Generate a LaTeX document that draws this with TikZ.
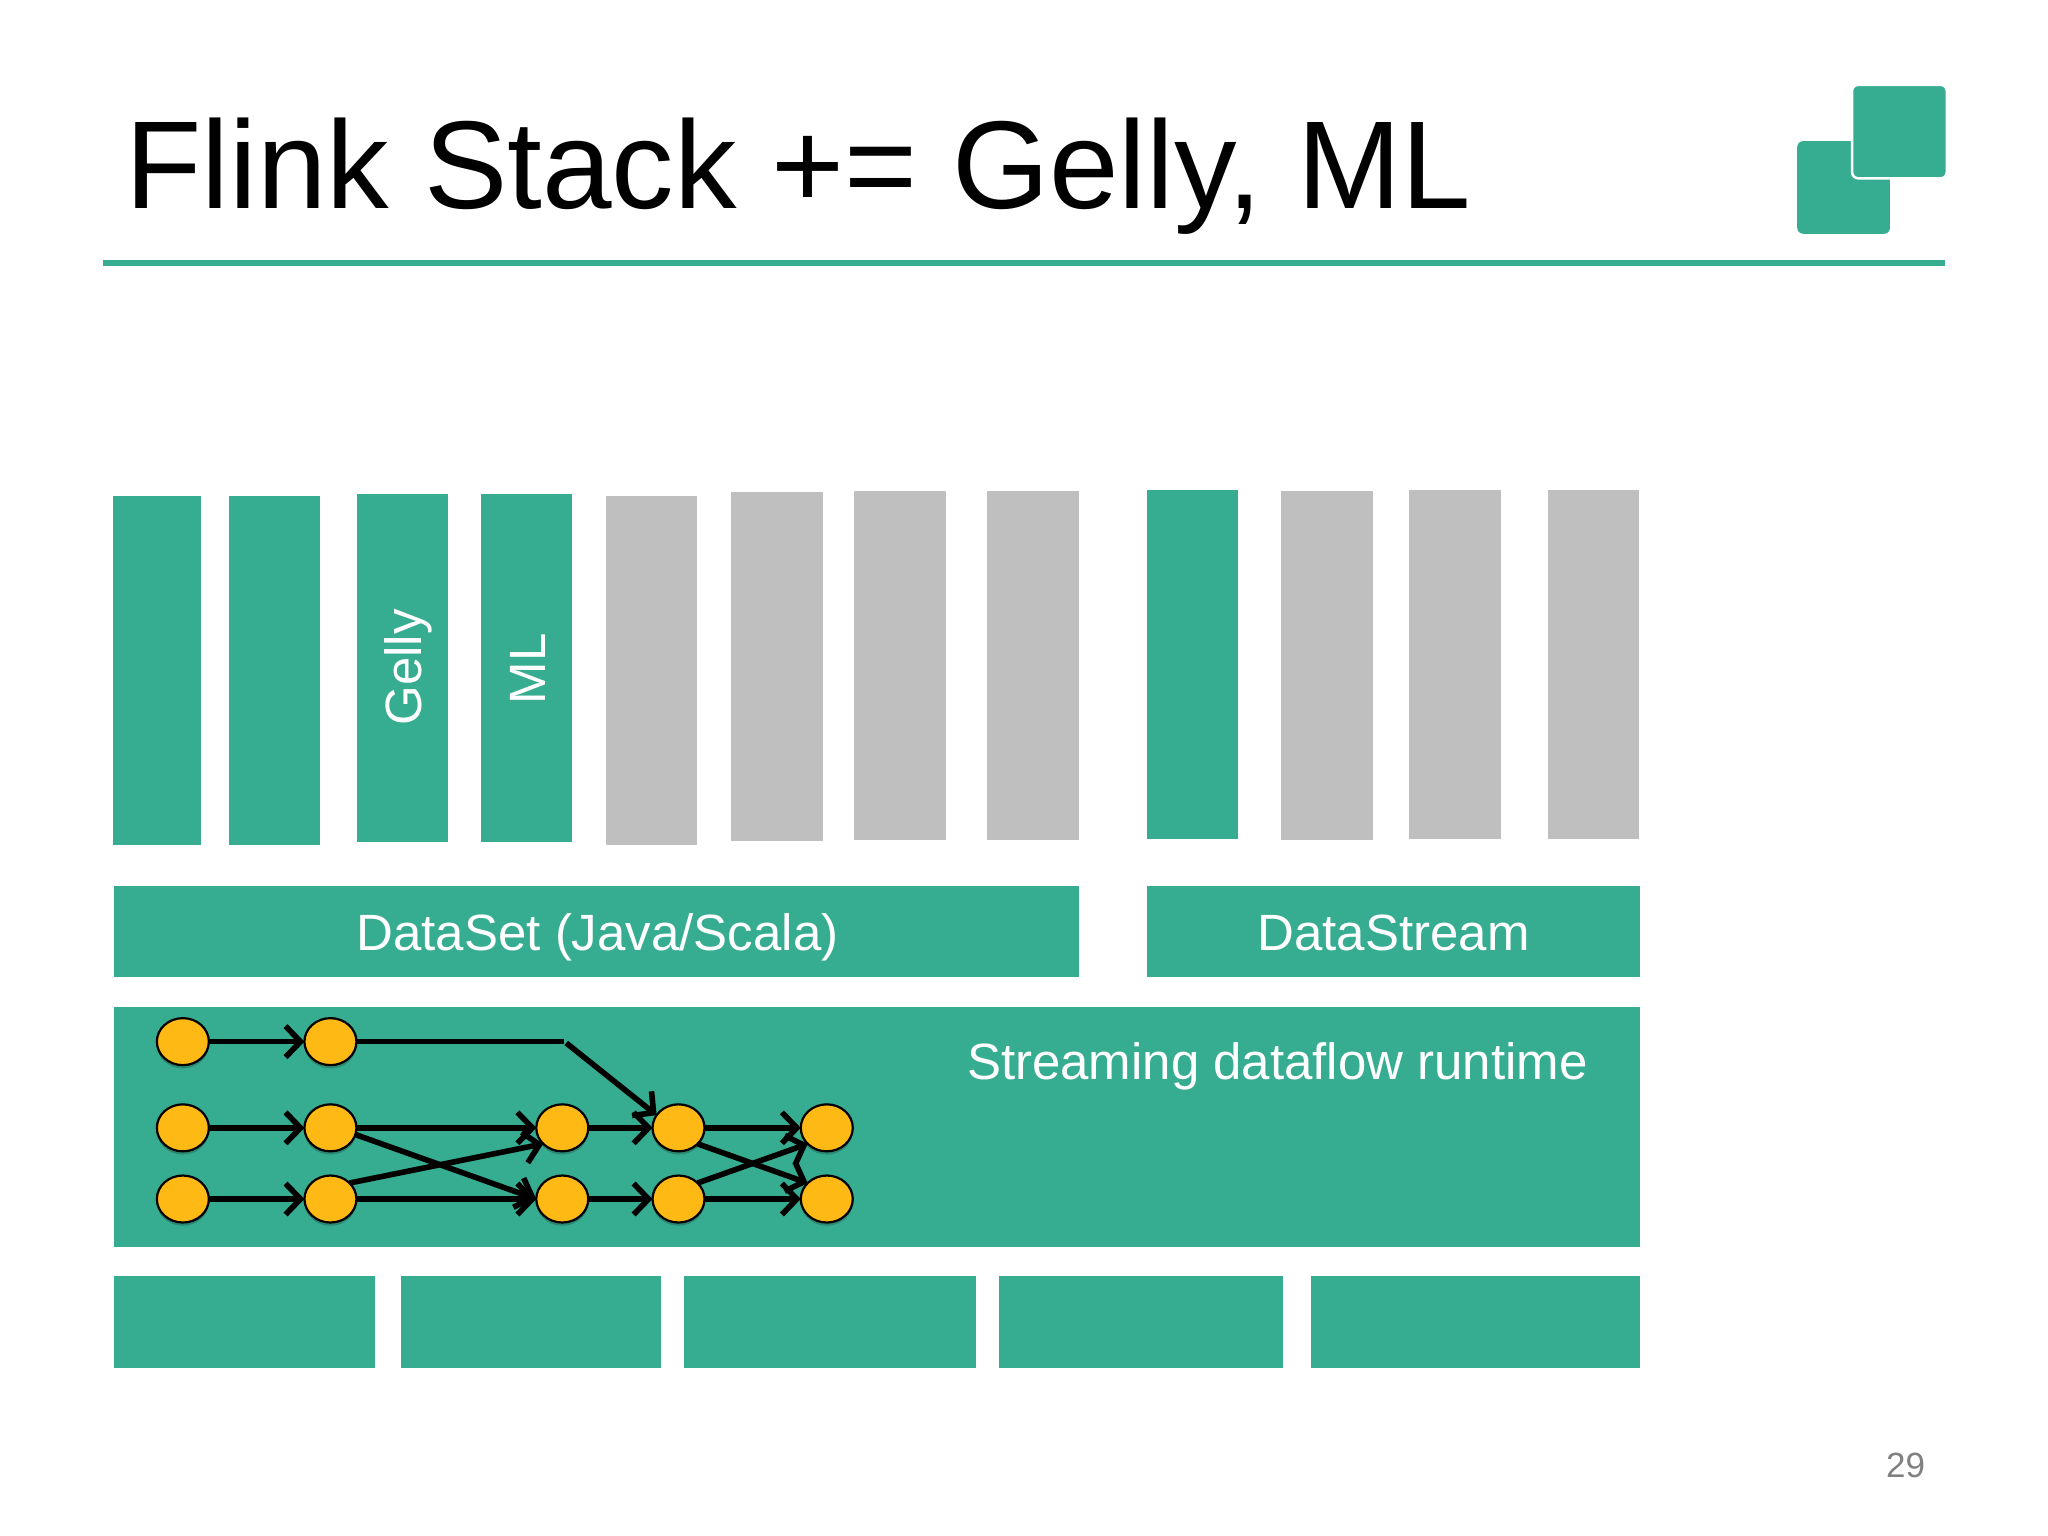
\documentclass[tikz,border=0pt]{standalone}
\usepackage{fontspec}
\setmainfont{Liberation Sans}
\usetikzlibrary{arrows.meta,calc,shapes.geometric}
\definecolor{flgreen}{HTML}{36AD91}
\definecolor{flgray}{HTML}{BFBFBF}
\definecolor{florange}{HTML}{FFB914}
\tikzset{
  grn/.style={fill=flgreen,draw=none},
  gry/.style={fill=flgray,draw=none},
  op/.style={ellipse,draw=black,line width=2.2pt,fill=florange,minimum width=52pt,minimum height=47pt,inner sep=0pt,outer sep=0pt},
  shad/.style={ellipse,fill=black,opacity=.2,minimum width=52pt,minimum height=47pt,inner sep=0pt},
  flow/.style={draw=black,line width=5.6pt,-{Straight Barb[length=15pt,width=31pt,line width=5.6pt]}},
  seg/.style={draw=black,line width=5.6pt},
  lab/.style={text=white,font=\fontsize{51}{60}\selectfont,inner sep=0pt,anchor=base},
}
\begin{document}
\begin{tikzpicture}[x=1.30612pt,y=-1.30612pt]
\useasboundingbox (0,0) rectangle (1568,1176);
\fill[white] (0,0) rectangle (1568,1176);
% title
\node[anchor=base west,inner sep=0pt,font=\fontsize{125}{140}\selectfont] (title) at (96,159.5) {Flink Stack += Gelly, ML};
\fill[flgreen] (78.5,199) rectangle (1489.5,203.5);
% logo
\fill[flgreen,rounded corners=6pt] (1376,108) rectangle (1447,179);
\fill[flgreen,rounded corners=6pt,draw=white,line width=2.5pt] (1418,65) rectangle (1490.5,136.5);
% columns
\fill[grn] (86.5,380) rectangle (154,647);
\fill[grn] (175,380) rectangle (245,647);
\fill[grn] (273,378) rectangle (343,645);
\node[lab,rotate=90] (gelly) at (323,511) {Gelly};
\fill[grn] (368,378) rectangle (438,645);
\node[lab,rotate=90] (ml) at (418,512) {ML};
\fill[gry] (464,380) rectangle (534,647);
\fill[gry] (560,377) rectangle (630,644);
\fill[gry] (654,376) rectangle (724,643);
\fill[gry] (756,376) rectangle (826,643);
\fill[grn] (878,375) rectangle (948,642);
\fill[gry] (981,376) rectangle (1051,643);
\fill[gry] (1079,375) rectangle (1149,642);
\fill[gry] (1185,375) rectangle (1255,642);
% APIs
\fill[grn] (87.5,678.5) rectangle (826,748);
\node[lab] (dataset) at (457.5,728) {DataSet (Java/Scala)};
\fill[grn] (878,678.5) rectangle (1255.5,748);
\node[lab] (datastream) at (1067,728) {DataStream};
% runtime
\fill[grn] (87.5,771) rectangle (1255.5,954.5);
\node[lab] (runtime) at (978,826.5) {Streaming dataflow runtime};
% deployment
\fill[grn] (87.5,977) rectangle (287,1047);
\fill[grn] (307,977) rectangle (506,1047);
\fill[grn] (524,977) rectangle (747,1047);
\fill[grn] (765,977) rectangle (982,1047);
\fill[grn] (1004,977) rectangle (1255.5,1047);
% page number
\node[text=black!50,font=\fontsize{35}{40}\selectfont,inner sep=0pt] (page) at (1459,1122) {29};
% shadows
\foreach \x/\y in {140/797.5,253/797.5,140/863.5,253/863.5,140/918,253/918,430.5/863.5,430.5/918,519.5/863.5,519.5/918,633/863.5,633/918}
  \node[shad] at (\x,\y+2.5) {};
% operators
\node[op] (a1) at (140,797.5) {};
\node[op] (b1) at (253,797.5) {};
\node[op] (a2) at (140,863.5) {};
\node[op] (b2) at (253,863.5) {};
\node[op] (a3) at (140,918) {};
\node[op] (b3) at (253,918) {};
\node[op] (c2) at (430.5,863.5) {};
\node[op] (c3) at (430.5,918) {};
\node[op] (d2) at (519.5,863.5) {};
\node[op] (d3) at (519.5,918) {};
\node[op] (e2) at (633,863.5) {};
\node[op] (e3) at (633,918) {};
\coordinate (bend) at (432,797.5);
\coordinate (bendb) at (433.5,798.5);
% connectors
\draw[flow] (a1) -- (b1);
\draw[flow] (a2) -- (b2);
\draw[flow] (a3) -- (b3);
\draw[seg] (b1) -- (bend);
\draw[flow] (bendb) -- (d2.150);
\draw[flow] (b2) -- (c2);
\draw[flow] (b2.-15) -- (c3.west);
\draw[flow] (b3.40) -- (c2.220);
\draw[flow] (b3) -- (c3);
\draw[flow] (c2) -- (d2);
\draw[flow] (c3) -- (d3);
\draw[flow] (d2) -- (e2);
\draw[flow] (d2.-40) -- (e3.140);
\draw[flow] (d3.40) -- (e2.220);
\draw[flow] (d3) -- (e3);
\end{tikzpicture}
\end{document}
